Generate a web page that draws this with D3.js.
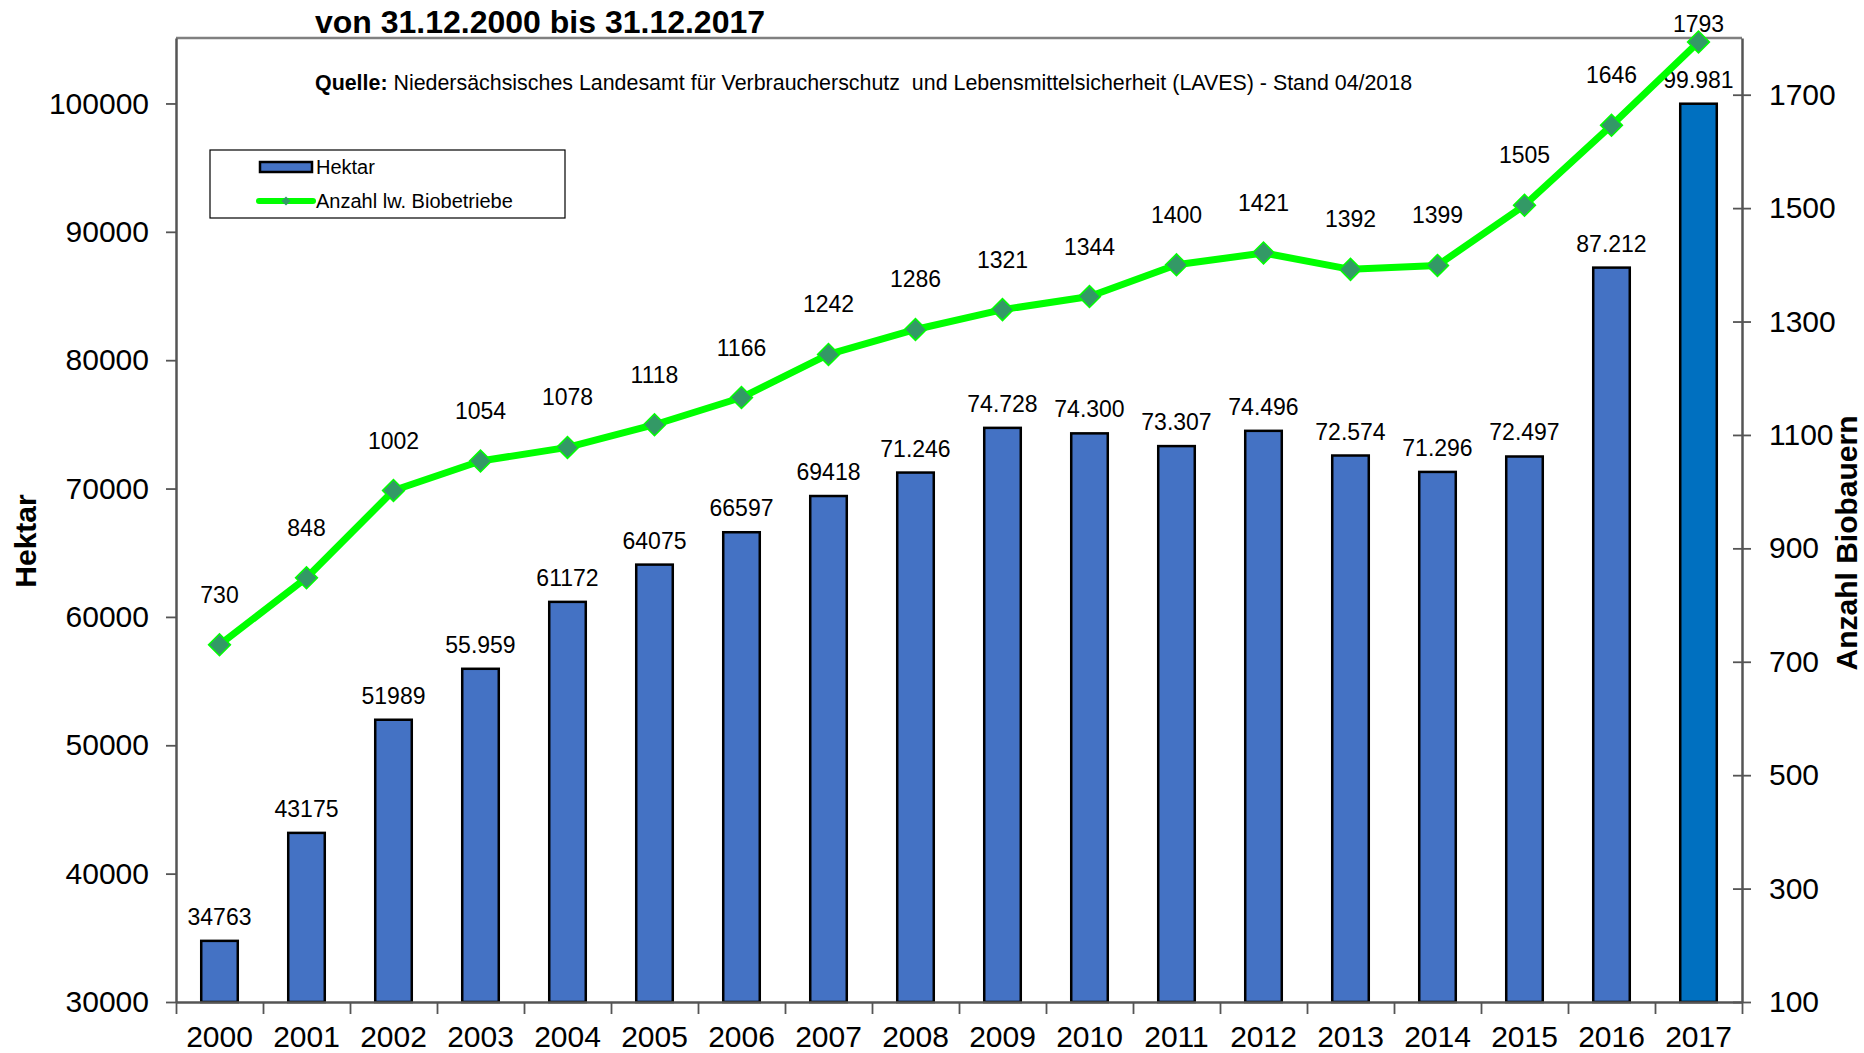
<!DOCTYPE html>
<html>
<head>
<meta charset="utf-8">
<script src="https://cdn.jsdelivr.net/npm/d3@7"></script>
<style>
  body { margin: 0; background: #fff; }
  text { font-family: "Liberation Sans", Arial, sans-serif; fill: #000; }
</style>
</head>
<body>
<svg id="chart"></svg>
<script>
// Ökologisch bewirtschaftete Fläche und Anzahl Biobetriebe, Niedersachsen
const years = ['2000','2001','2002','2003','2004','2005','2006','2007','2008',
               '2009','2010','2011','2012','2013','2014','2015','2016','2017'];
const hektar = [34763, 43175, 51989, 55959, 61172, 64075, 66597, 69418, 71246,
                74728, 74300, 73307, 74496, 72574, 71296, 72497, 87212, 99981];
const hektarLabels = ['34763','43175','51989','55.959','61172','64075','66597','69418','71.246',
                      '74.728','74.300','73.307','74.496','72.574','71.296','72.497','87.212','99.981'];
const betriebe = [730, 848, 1002, 1054, 1078, 1118, 1166, 1242, 1286,
                  1321, 1344, 1400, 1421, 1392, 1399, 1505, 1646, 1793];
const leftTicks = [30000, 40000, 50000, 60000, 70000, 80000, 90000, 100000];
const rightTicks = [100, 300, 500, 700, 900, 1100, 1300, 1500, 1700];

const W = 1864, H = 1053;
const margin = {top: 38, right: 122, bottom: 51, left: 176};
const innerW = W - margin.left - margin.right;
const innerH = H - margin.top - margin.bottom;

const svg = d3.select('#chart').attr('width', W).attr('height', H);
const g = svg.append('g').attr('transform', `translate(${margin.left},${margin.top})`);

const x = d3.scaleBand().domain(years).range([0, innerW])
    .paddingInner(0.58).paddingOuter(0.29);
const xLin = d3.scaleLinear().domain([0, years.length]).range([0, innerW]);
const yL = d3.scaleLinear().domain([30000, 105100]).range([innerH, 0]);
const yR = d3.scaleLinear().domain([100, 1800]).range([innerH, 0]);

// plot frame (top border)
g.append('line').attr('x1', 0).attr('x2', innerW).attr('y1', 0).attr('y2', 0)
    .attr('stroke', '#808080').attr('stroke-width', 2.5);

// bars
g.selectAll('rect.bar').data(hektar).join('rect')
    .attr('class', 'bar')
    .attr('x', (d, i) => x(years[i]))
    .attr('y', d => yL(d))
    .attr('width', x.bandwidth())
    .attr('height', d => innerH - yL(d))
    .attr('fill', (d, i) => i === years.length - 1 ? '#0070C0' : '#4472C4')
    .attr('stroke', '#000').attr('stroke-width', 2.5);

g.selectAll('text.blab').data(hektar).join('text')
    .attr('class', 'blab')
    .attr('x', (d, i) => x(years[i]) + x.bandwidth() / 2)
    .attr('y', d => yL(d) - 16)
    .attr('text-anchor', 'middle')
    .style('font-size', '23px')
    .text((d, i) => hektarLabels[i]);

// axes
const axL = g.append('g').call(d3.axisLeft(yL).tickValues(leftTicks).tickSize(10)
    .tickSizeOuter(0).tickFormat(d3.format('d')).tickPadding(17));
const axR = g.append('g').attr('transform', `translate(${innerW},0)`)
    .call(d3.axisRight(yR).tickValues(rightTicks).tickSize(9).tickSizeOuter(0)
        .tickFormat(d3.format('d')).tickPadding(18));
axR.selectAll('.tick line').attr('x1', -9);
const axB = g.append('g').attr('transform', `translate(0,${innerH})`)
    .call(d3.axisBottom(xLin).tickValues(d3.range(years.length + 1)).tickSize(12)
        .tickSizeOuter(0).tickFormat(''));
const axBL = g.append('g').attr('transform', `translate(0,${innerH})`)
    .call(d3.axisBottom(x).tickSize(0).tickPadding(24));
axBL.select('.domain').remove();

[axL, axR, axB].forEach(a => {
    a.select('.domain').attr('stroke', '#555').attr('stroke-width', 2.5);
    a.selectAll('.tick line').attr('stroke', '#555').attr('stroke-width', 1.8);
});
[axL, axR, axBL].forEach(a => {
    a.selectAll('.tick text').style('font-size', '30px')
        .style('font-family', '"Liberation Sans", Arial, sans-serif').attr('fill', '#000');
});
axBL.selectAll('.tick text').attr('dy', '0.71em');

// line
const line = d3.line()
    .x((d, i) => x(years[i]) + x.bandwidth() / 2)
    .y(d => yR(d));
g.append('path').datum(betriebe)
    .attr('d', line)
    .attr('fill', 'none')
    .attr('stroke', '#00FF00')
    .attr('stroke-width', 7)
    .attr('stroke-linejoin', 'round');

const diamond = d3.symbol().type(d3.symbolSquare).size(240);
g.selectAll('path.mark').data(betriebe).join('path')
    .attr('class', 'mark')
    .attr('d', diamond)
    .attr('transform', (d, i) => `translate(${x(years[i]) + x.bandwidth() / 2},${yR(d)}) rotate(45)`)
    .attr('fill', '#339966')
    .attr('stroke', '#00FF00')
    .attr('stroke-width', 1.5);

g.selectAll('text.llab').data(betriebe).join('text')
    .attr('class', 'llab')
    .attr('x', (d, i) => x(years[i]) + x.bandwidth() / 2)
    .attr('y', d => Math.max(yR(d) - 42, -6))
    .attr('text-anchor', 'middle')
    .style('font-size', '23px')
    .text(d => d);

// title and source
svg.append('text')
    .attr('x', 540).attr('y', 33)
    .attr('text-anchor', 'middle')
    .style('font-size', '32px').style('font-weight', 'bold')
    .text('von 31.12.2000 bis 31.12.2017');

const src = svg.append('text').attr('x', 315).attr('y', 90).style('font-size', '21.4px');
src.append('tspan').style('font-weight', 'bold').text('Quelle:');
src.append('tspan').text(' Niedersächsisches Landesamt für Verbraucherschutz\u00a0 und Lebensmittelsicherheit (LAVES) - Stand 04/2018');

// axis titles
svg.append('text')
    .attr('transform', `translate(36,541) rotate(-90)`)
    .attr('text-anchor', 'middle')
    .style('font-size', '30px').style('font-weight', 'bold')
    .text('Hektar');
svg.append('text')
    .attr('transform', `translate(1857,543) rotate(-90)`)
    .attr('text-anchor', 'middle')
    .style('font-size', '30px').style('font-weight', 'bold')
    .text('Anzahl Biobauern');

// legend
const leg = svg.append('g');
leg.append('rect').attr('x', 210).attr('y', 150).attr('width', 355).attr('height', 68)
    .attr('fill', '#fff').attr('stroke', '#000').attr('stroke-width', 1.2);
leg.append('rect').attr('x', 260).attr('y', 162).attr('width', 52).attr('height', 10)
    .attr('fill', '#4472C4').attr('stroke', '#000').attr('stroke-width', 2.5);
leg.append('line').attr('x1', 259).attr('x2', 313).attr('y1', 201).attr('y2', 201)
    .attr('stroke', '#00FF00').attr('stroke-width', 6).attr('stroke-linecap', 'round');
leg.append('path').attr('d', d3.symbol().type(d3.symbolSquare).size(40))
    .attr('transform', 'translate(286,201) rotate(45)').attr('fill', '#339966');
leg.append('text').attr('x', 316).attr('y', 174).style('font-size', '20px').text('Hektar');
leg.append('text').attr('x', 316).attr('y', 208).style('font-size', '20px').text('Anzahl lw. Biobetriebe');
</script>
</body>
</html>
